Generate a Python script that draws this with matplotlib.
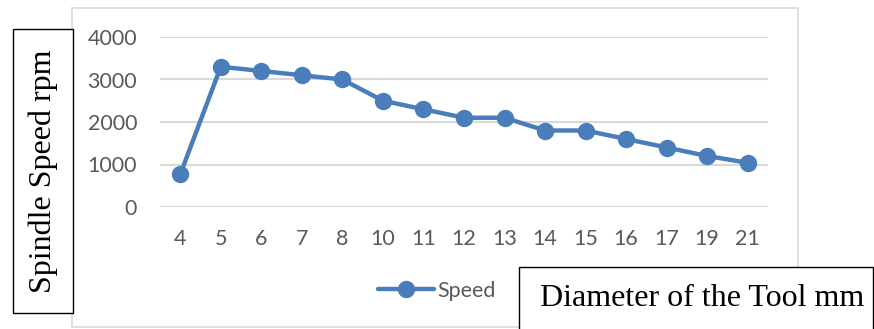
import matplotlib.pyplot as plt
from matplotlib.patches import Rectangle
import numpy as np

# Données
diametres = ['4', '5', '6', '7', '8', '10', '11', '12', '13', '14', '15', '16', '17', '19', '21']
vitesse = [770, 3300, 3200, 3100, 3000, 2500, 2300, 2100, 2100, 1800, 1800, 1600, 1400, 1200, 1040]
yticks = [0, 1000, 2000, 3000, 4000]

W, H = 874, 329
fig = plt.figure(figsize=(W / 100, H / 100), dpi=100)

def px(x0, y0, x1, y1):
    # rectangle en pixels (origine en haut à gauche) -> coordonnées figure
    return (x0 / W, 1 - y1 / H, (x1 - x0) / W, (y1 - y0) / H)

# Cadre extérieur du graphique
l, b, w, h = px(72, 8, 798, 327)
fig.patches.append(Rectangle((l, b), w, h, transform=fig.transFigure,
                             fill=False, edgecolor='#d9d9d9', linewidth=1.2))

ax = fig.add_axes(px(160, 37, 768, 207))
x = np.arange(len(diametres))
ax.plot(x, vitesse, color='#4a7ebb', linewidth=3.2, marker='o', markersize=11.5,
        label='Speed', solid_capstyle='round')
ax.set_xlim(-0.5, len(diametres) - 0.5)
ax.set_ylim(0, 4000)
ax.set_xticks(x)
ax.set_xticklabels(diametres)
ax.set_yticks(yticks)
ax.grid(axis='y', color='#d9d9d9', linewidth=1.5)
ax.set_axisbelow(True)
for s in ax.spines.values():
    s.set_visible(False)
ax.tick_params(length=0, labelsize=15.5, labelcolor='#595959')
ax.tick_params(axis='y', pad=16.5)
ax.tick_params(axis='x', pad=16)
for t in ax.get_xticklabels() + ax.get_yticklabels():
    t.set_fontfamily('Lato')

leg = ax.legend(loc='center', bbox_to_anchor=(437 / W, 1 - 291 / H),
                bbox_transform=fig.transFigure, frameon=False,
                prop={'family': 'Lato', 'size': 15.5}, handlelength=2.6,
                handletextpad=0.15)
for t in leg.get_texts():
    t.set_color('#595959')

# Boîtes des titres d'axes
l, b, w, h = px(13, 29, 73, 313)
fig.patches.append(Rectangle((l, b), w, h, transform=fig.transFigure,
                             facecolor='white', edgecolor='black', linewidth=1))
fig.text(43 / W, 1 - 171 / H, 'Spindle Speed rpm', rotation=90, ha='center',
         va='center', family='Liberation Serif', fontsize=23)

l, b, w, h = px(519, 267, 873, 335)
fig.patches.append(Rectangle((l, b), w, h, transform=fig.transFigure,
                             facecolor='white', edgecolor='black', linewidth=1))
fig.text(702 / W, 1 - 298 / H, 'Diameter of the Tool mm', ha='center',
         va='center', family='Liberation Serif', fontsize=23)

fig.savefig('out.png', dpi=100)
